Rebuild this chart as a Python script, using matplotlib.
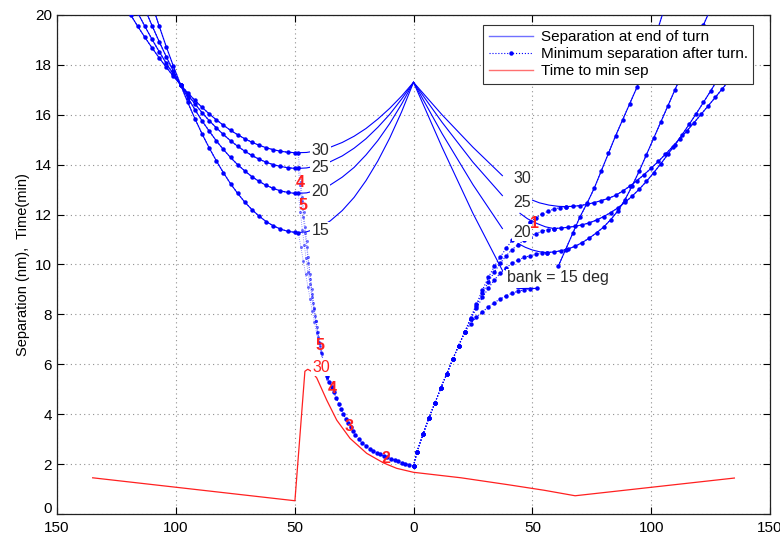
import matplotlib.pyplot as plt
from matplotlib.ticker import FuncFormatter, MultipleLocator
from matplotlib.transforms import ScaledTranslation

plt.rcParams['font.family'] = ['Liberation Sans', 'DejaVu Sans']

BLUE = '#0000ff'
RED = '#ff2020'

# ---- left side: separation curves for bank 30/25/20/15 deg (x < 0) ----
left_x = [-122, -119, -116, -113, -110, -107, -104, -101, -98, -95, -92, -89, -86,
          -83, -80, -77, -74, -71, -68, -65, -62, -59, -56, -53, -50, -48.5]
left_30 = [20.48, 20.00, 19.54, 19.10, 18.68, 18.28, 17.90, 17.54, 17.20, 16.88, 16.58, 16.30, 16.04,
           15.80, 15.58, 15.38, 15.20, 15.04, 14.90, 14.78, 14.68, 14.60, 14.54, 14.50, 14.48, 14.48]
left_25 = [21.23, 20.64, 20.08, 19.54, 19.02, 18.53, 18.06, 17.62, 17.20, 16.81, 16.44, 16.09, 15.77,
           15.48, 15.21, 14.96, 14.74, 14.54, 14.37, 14.22, 14.10, 14.00, 13.93, 13.88, 13.85, 13.85]
left_20 = [22.44, 21.68, 20.94, 20.24, 19.57, 18.93, 18.32, 17.74, 17.20, 16.69, 16.21, 15.76, 15.35,
           14.96, 14.61, 14.29, 14.00, 13.75, 13.52, 13.33, 13.17, 13.05, 12.95, 12.89, 12.85, 12.85]
left_15 = [24.33, 23.29, 22.29, 21.33, 20.42, 19.55, 18.72, 17.94, 17.20, 16.50, 15.85, 15.24, 14.68,
           14.16, 13.68, 13.24, 12.85, 12.50, 12.20, 11.94, 11.72, 11.55, 11.42, 11.33, 11.29, 11.28]

# end-of-turn separation between the left minimum and the apex at 0
apex_left_x = [-45, -40, -35, -30, -25, -20, -15, -10, -5, 0]
apex_left_30 = [14.49, 14.57, 14.70, 14.89, 15.14, 15.45, 15.83, 16.26, 16.75, 17.30]
apex_left_25 = [13.87, 13.96, 14.12, 14.35, 14.66, 15.04, 15.50, 16.02, 16.63, 17.30]
apex_left_20 = [12.87, 12.99, 13.19, 13.50, 13.89, 14.39, 14.97, 15.65, 16.43, 17.30]
apex_left_15 = [11.31, 11.46, 11.75, 12.16, 12.69, 13.36, 14.15, 15.07, 16.12, 17.30]

# minimum separation after turn, drop from the left minima
drop_30_x = [-48.5, -48.0, -47.4, -46.8, -46.2, -45.6, -45.0, -44.3, -43.5, -42.8,
             -42.1, -41.4, -40.7, -40.0, -39.3, -38.6, -37.9, -37.2, -36.5]
drop_30_y = [14.48, 13.9, 13.3, 12.7, 12.1, 11.5, 10.95, 10.3, 9.6, 9.0,
             8.45, 7.95, 7.5, 7.1, 6.75, 6.4, 6.05, 5.75, 5.5]
drop_25_x = [-48.5, -47.8, -47.1, -46.4, -45.7, -45.0, -44.2, -43.4, -42.6, -41.8,
             -41.0, -40.2, -39.4, -38.6, -37.8, -37.0, -36.2]
drop_25_y = [13.85, 13.2, 12.55, 11.9, 11.25, 10.7, 10.05, 9.4, 8.8, 8.25,
             7.75, 7.3, 6.85, 6.45, 6.1, 5.75, 5.45]
drop_20_x = [-48.5, -47.6, -46.8, -46.0, -45.2, -44.4, -43.6, -42.8, -42.0, -41.2,
             -40.4, -39.6, -38.8, -38.0, -37.2, -36.4]
drop_20_y = [12.85, 12.1, 11.4, 10.8, 10.25, 9.7, 9.2, 8.7, 8.2, 7.75,
             7.3, 6.9, 6.5, 6.15, 5.8, 5.5]
drop_15_x = [-48.5, -47.4, -46.4, -45.4, -44.4, -43.5, -42.6, -41.7, -40.8, -39.9,
             -39.0, -38.1, -37.2, -36.3]
drop_15_y = [11.28, 10.7, 10.15, 9.6, 9.1, 8.6, 8.15, 7.7, 7.25, 6.85,
             6.45, 6.05, 5.7, 5.4]
low_x = [-36.5, -35.5, -34.5, -33.5, -32.5, -31.5, -30.5, -29.5, -28.5, -27.5, -26.5, -25.5,
         -24.5, -23, -21.5, -20, -18.5, -17, -15.5, -14, -12.5, -11, -9.5, -8, -6.5, -5,
         -3.5, -2, 0]
low_y = [5.55, 5.3, 5.1, 4.88, 4.65, 4.42, 4.2, 4.0, 3.8, 3.63, 3.47, 3.32,
         3.18, 3.0, 2.85, 2.73, 2.62, 2.53, 2.45, 2.39, 2.33, 2.28, 2.22, 2.16, 2.11, 2.06,
         2.02, 1.98, 1.92]

# ---- right side (x > 0) ----
apex_right_x = [0, 12, 25, 37.4]
apex_right_30 = [17.3, 16.0, 14.7, 13.56]
apex_right_25 = [17.3, 15.7, 14.1, 12.76]
apex_right_20 = [17.3, 15.25, 13.2, 11.44]
apex_right_15 = [17.3, 14.7, 12.05, 9.76]

arc_30_x = [49.7, 53, 57, 61, 64]
arc_30_y = [12.59, 12.47, 12.38, 12.33, 12.32]
arc_25_x = [44.8, 48, 52, 55.5, 59]
arc_25_y = [12.05, 11.83, 11.64, 11.51, 11.44]
arc_20_x = [44, 47, 50, 53, 56]
arc_20_y = [10.84, 10.69, 10.58, 10.51, 10.48]
arc_15_x = [43.5, 47.5, 52]
arc_15_y = [9.03, 9.04, 9.04]

rise_30_x = [64, 67, 70, 73, 76, 79, 82, 85, 88, 91, 94, 97, 100, 103, 106, 109, 112,
             115, 118, 121, 124, 127, 130, 133, 136]
rise_30_y = [12.32, 12.33, 12.36, 12.41, 12.48, 12.56, 12.65, 12.77, 12.94, 13.14, 13.36, 13.6,
             13.86, 14.13, 14.42, 14.72, 15.03, 15.35, 15.68, 16.02, 16.36, 16.7, 17.05, 17.4, 17.76]
rise_25_x = [59, 62, 65, 68, 71, 74, 77, 80, 83, 86, 89, 92, 95, 98, 101, 104, 107, 110,
             113, 116, 119, 122, 125, 128, 131]
rise_25_y = [11.44, 11.46, 11.49, 11.53, 11.59, 11.67, 11.78, 11.92, 12.08, 12.27, 12.49, 12.74,
             13.02, 13.33, 13.67, 14.03, 14.41, 14.8, 15.2, 15.62, 16.05, 16.5, 16.95, 17.42, 17.9]
rise_20_x = [56, 59, 62, 65, 68, 71, 74, 77, 80, 83, 86, 89, 92, 95, 98, 101, 104, 107,
             110, 113, 116, 119, 122, 125]
rise_20_y = [10.48, 10.5, 10.55, 10.62, 10.73, 10.88, 11.06, 11.27, 11.5, 11.8, 12.15, 12.6,
             13.15, 13.75, 14.4, 15.05, 15.7, 16.35, 17.0, 17.65, 18.3, 18.95, 19.6, 20.25]
rise_15_x = [61, 64, 67, 70, 73, 76, 79, 82, 85, 88, 91, 94, 97, 100, 103, 106]
rise_15_y = [9.95, 10.6, 11.25, 11.9, 12.45, 13.05, 13.75, 14.45, 15.15, 15.8, 16.45, 17.1,
             17.8, 18.6, 19.5, 20.4]

# minimum separation after turn on the right, from the bottom of the V
minr_common_x = [0, 1.5, 4, 6.5, 9, 11.5, 14, 16.5, 19, 21.5]
minr_common_y = [1.92, 2.5, 3.2, 3.85, 4.45, 5.05, 5.62, 6.2, 6.75, 7.28]
minr_15_x = [24, 26.5, 29, 31.5, 34, 36.5, 39, 41.5, 44, 46.5, 49, 52]
minr_15_y = [7.62, 7.9, 8.1, 8.3, 8.47, 8.62, 8.75, 8.85, 8.93, 8.98, 9.02, 9.04]
minr_20_x = [24, 26.5, 29, 31.5, 34, 36.5, 39, 41.5, 44, 46.5, 49, 51.5, 54, 56]
minr_20_y = [7.8, 8.25, 8.68, 9.05, 9.38, 9.65, 9.87, 10.05, 10.18, 10.28, 10.35, 10.41, 10.45, 10.48]
minr_25_x = [24, 26.5, 29, 31.5, 34, 36.5, 39, 41.5, 44, 46.5, 49, 51.5, 54, 56.5, 59]
minr_25_y = [7.82, 8.35, 8.85, 9.3, 9.7, 10.05, 10.35, 10.6, 10.8, 10.97, 11.12, 11.24, 11.33,
             11.4, 11.43]
minr_30_x = [24, 26.5, 29, 31.5, 34, 36.5, 39, 41.5, 44, 46.5, 49, 51.5, 54, 56.5, 59, 61.5, 64]
minr_30_y = [7.85, 8.42, 8.98, 9.48, 9.92, 10.3, 10.65, 10.97, 11.25, 11.5, 11.7, 11.88, 12.02,
             12.13, 12.22, 12.28, 12.32]

# time to minimum separation
time_x = [-135, -49.9, -45.7, -44.5, -43, -40.7, -36.5, -32.3, -26.7, -19.7, -12.7, -7.1, 0,
          20, 40, 55, 68, 135]
time_y = [1.45, 0.53, 5.72, 5.8, 5.72, 5.45, 4.56, 3.76, 3.03, 2.43, 2.05, 1.83, 1.67,
          1.45, 1.17, 0.95, 0.73, 1.44]

# red time marks (minutes) along the minimum separation curves
mark_text = ['4', '5', '5', '4', '3', '2', '1']
mark_x = [-47.7, -46.4, -39.3, -34.4, -27.0, -11.6, 51.1]
mark_y = [13.3, 12.36, 6.76, 5.03, 3.52, 2.23, 11.63]

# axis ticks
x_ticks = [-150, -100, -50, 0, 50, 100, 150]
y_ticks = [0, 2, 4, 6, 8, 10, 12, 14, 16, 18, 20]

fig = plt.figure(figsize=(7.8, 5.35), dpi=100)
ax = fig.add_axes([0.0731, 0.0393, 0.9141, 0.9327])

sep_kw = dict(color=BLUE, lw=0.8, zorder=2)
min_kw = dict(color=BLUE, lw=0.8, ls=':', marker='o', ms=3.2, mew=0, zorder=3)
faint_kw = dict(color=BLUE, lw=0.6, ls=':', marker='o', ms=2.2, mew=0, alpha=0.55, zorder=3)

# left family
for ly, ay in [(left_30, apex_left_30), (left_25, apex_left_25),
               (left_20, apex_left_20), (left_15, apex_left_15)]:
    ax.plot(left_x + apex_left_x, ly + ay, **sep_kw)
    ax.plot(left_x, ly, **min_kw)

for dx, dy in [(drop_30_x, drop_30_y), (drop_25_x, drop_25_y),
               (drop_20_x, drop_20_y), (drop_15_x, drop_15_y)]:
    ax.plot(dx, dy, **faint_kw)
ax.plot(low_x, low_y, **min_kw)

# right family
for ay in [apex_right_30, apex_right_25, apex_right_20, apex_right_15]:
    ax.plot(apex_right_x, ay, **sep_kw)
for axx, ayy in [(arc_30_x, arc_30_y), (arc_25_x, arc_25_y),
                 (arc_20_x, arc_20_y), (arc_15_x, arc_15_y)]:
    ax.plot(axx, ayy, **sep_kw)
for rx, ry in [(rise_30_x, rise_30_y), (rise_25_x, rise_25_y),
               (rise_20_x, rise_20_y), (rise_15_x, rise_15_y)]:
    ax.plot(rx, ry, **sep_kw)
    ax.plot(rx, ry, **min_kw)
for mx, my in [(minr_30_x, minr_30_y), (minr_25_x, minr_25_y),
               (minr_20_x, minr_20_y), (minr_15_x, minr_15_y)]:
    ax.plot(minr_common_x + mx, minr_common_y + my, **min_kw)

ax.plot(time_x, time_y, color=RED, lw=0.9, zorder=4)

# bank angle labels
box = dict(facecolor='white', edgecolor='none', pad=1.0)
lab_kw = dict(fontsize=11.5, color='#2a2a2a', va='center', ha='left', bbox=box, zorder=6)
for b, yy in zip([30, 25, 20, 15], [14.56, 13.88, 12.92, 11.36]):
    ax.text(-43.0, yy, str(b), **lab_kw)
for b, yy in zip([30, 25, 20], [13.44, 12.48, 11.28]):
    ax.text(41.9, yy, str(b), **lab_kw)
ax.text(39.4, 9.48, 'bank = 15 deg', **lab_kw)
ax.text(-42.6, 5.88, '30', fontsize=11.5, color=RED, va='center', ha='left', bbox=box, zorder=6)

for t, x, y in zip(mark_text, mark_x, mark_y):
    ax.text(x, y, t, color=RED, fontsize=11.5, fontweight='bold', ha='center', va='center', zorder=7)

# legend proxies
h1, = ax.plot([], [], color='#7070ff', lw=1.0)
h2, = ax.plot([], [], color=BLUE, lw=0.8, ls=':', marker='o', ms=3.2, mew=0)
h3, = ax.plot([], [], color='#ff7070', lw=1.0)
leg = ax.legend([h1, h2, h3],
                ['Separation at end of turn', 'Minimum separation after turn.', 'Time to min sep'],
                loc='upper right', bbox_to_anchor=(0.976, 0.98), borderaxespad=0,
                fontsize=11, labelspacing=0.2, handlelength=2.9, handletextpad=0.5,
                borderpad=0.35, fancybox=False, framealpha=1, edgecolor='#333333')
leg.get_frame().set_linewidth(0.8)
leg.set_zorder(10)

ax.set_xlim(-150, 150)
ax.set_ylim(0, 20)
ax.set_xticks(x_ticks)
ax.set_yticks(y_ticks)
ax.xaxis.set_major_formatter(FuncFormatter(lambda v, p: f'{abs(v):g}'))
ax.tick_params(direction='in', top=True, right=True, labelsize=11, length=5, width=0.8)
ax.tick_params(axis='x', pad=5)
ax.grid(True, color='#909090', ls=(0, (1, 3)), lw=0.8)
for sp in ax.spines.values():
    sp.set_linewidth(0.9)
    sp.set_color('#222222')
ax.set_ylabel('Separation (nm),  Time(min)', fontsize=10.5, labelpad=4)

# lift the "0" y tick label a few pixels so it clears the "150" below it
zero_lbl = ax.get_yticklabels()[0]
zero_lbl.set_transform(zero_lbl.get_transform() + ScaledTranslation(0, 5 / 72, fig.dpi_scale_trans))

fig.savefig('out.png', dpi=100)
